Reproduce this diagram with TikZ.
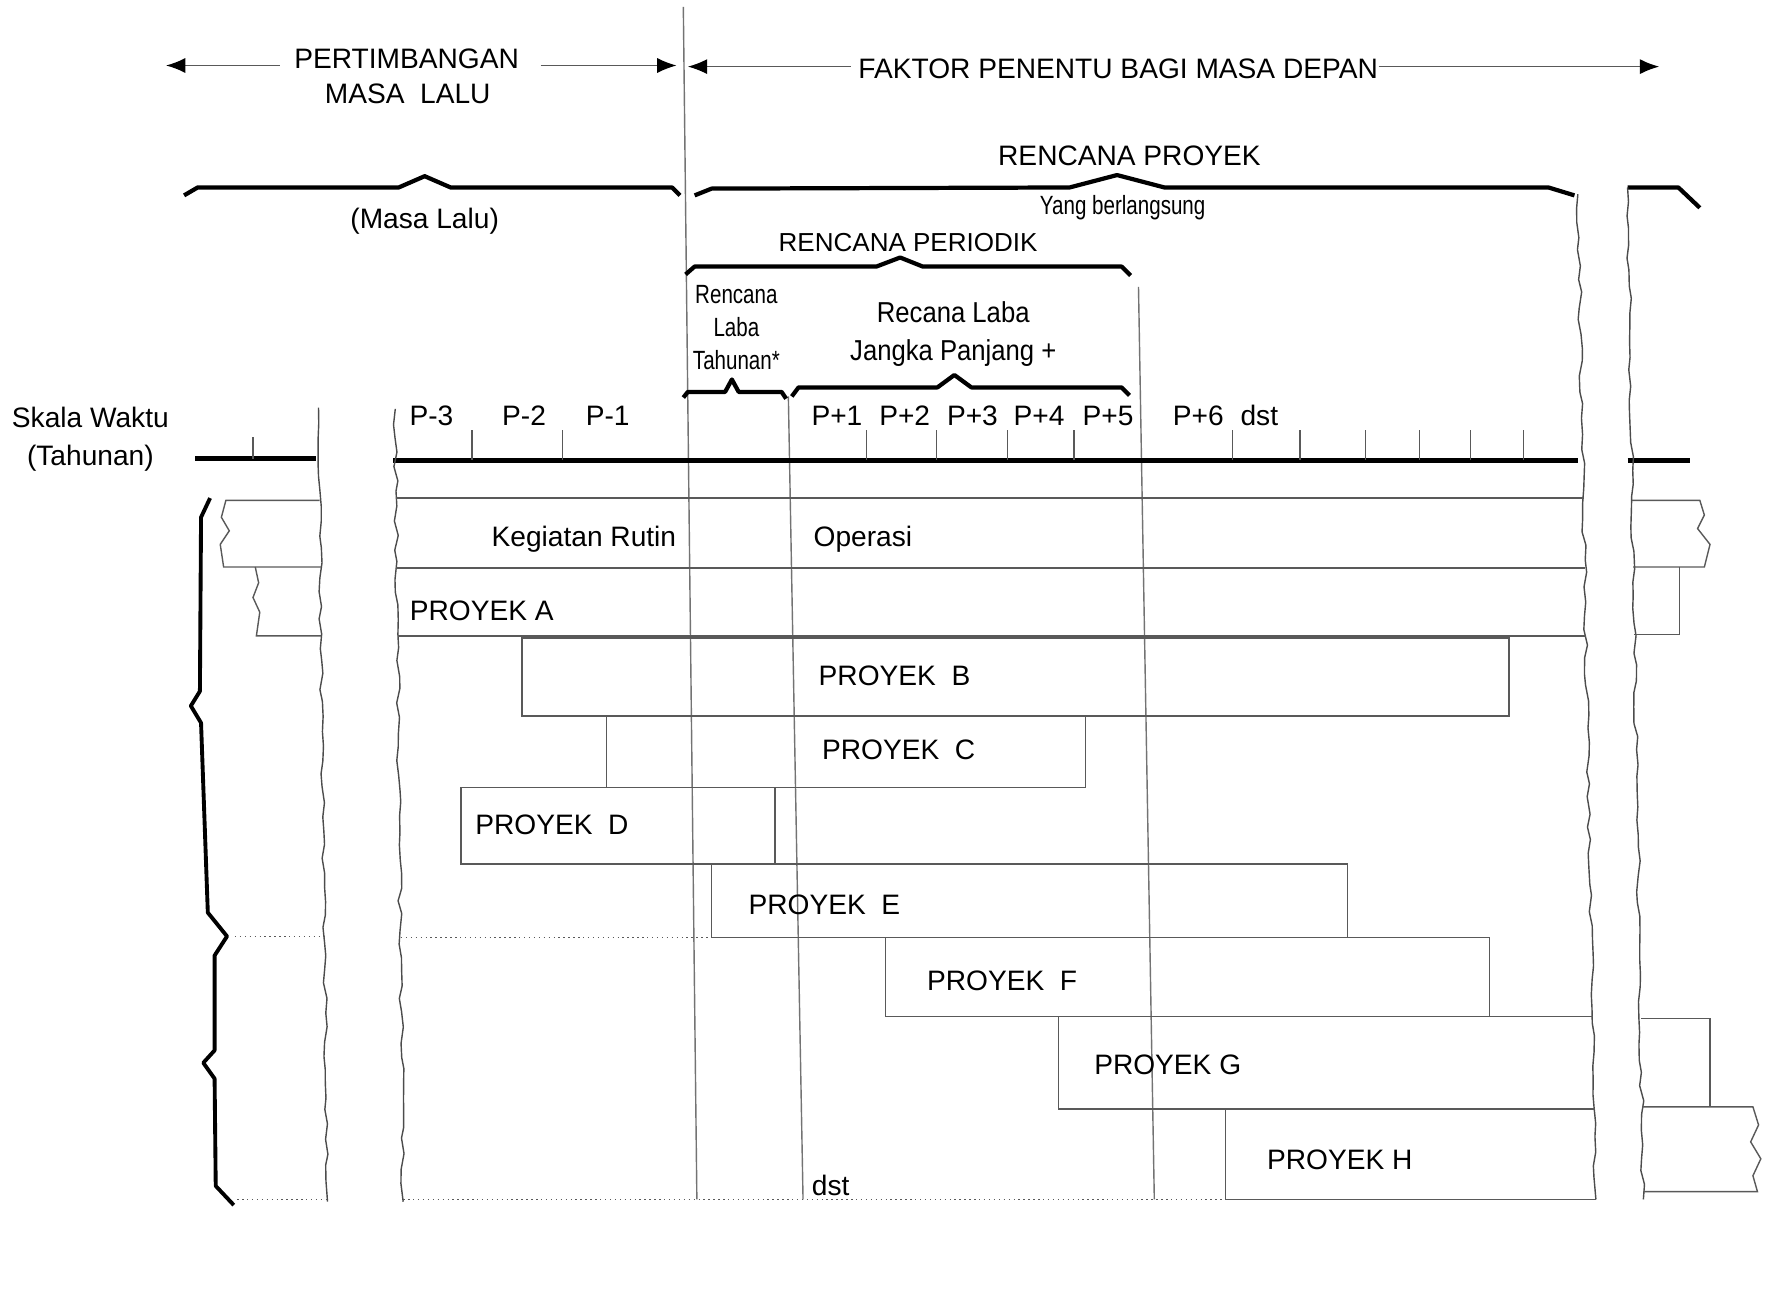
\documentclass[tikz,border=0pt]{standalone}
\usepackage{fontspec}
\setmainfont{Liberation Sans}
\newfontfamily\narrowfont[FakeStretch=0.78]{Liberation Sans}
\newfontfamily\semifont[FakeStretch=0.89]{Liberation Sans}
\usepackage{tikz}
\usetikzlibrary{arrows.meta,decorations.pathmorphing}

\begin{document}
\begin{tikzpicture}[x=0.011295cm,y=-0.011295cm,
        lbl/.style={font=\fontsize{8}{10}\selectfont,inner sep=2pt},
        arr/.style={-{Latex[length=5.5pt,width=4.3pt,color=black]},black!65,thin},
        brc/.style={line width=1.2pt,line join=round},
        axisline/.style={line width=1.5pt},
        tickline/.style={black!65,thin},
        box/.style={black!65,thin},
        vline/.style={black!55,thin},
        brk/.style={black!70,thin,decorate,decoration={random steps,segment length=4pt,amplitude=0.6pt}},
        dots/.style={black!65,densely dotted}]
        \pgfmathsetseed{11}
        \useasboundingbox (0,0) rectangle (1568,1147);

        %top arrows
        \node[lbl,inner sep=4pt] (pertimb) at (360,52){PERTIMBANGAN};
        \node[lbl] (masalalu) at (361,83){MASA\ \ LALU};
        \node[lbl] (faktor) at (990,61){FAKTOR PENENTU BAGI MASA DEPAN};
        \coordinate (pastL) at (147,58);
        \coordinate (pastR) at (599,58);
        \coordinate (futL) at (609,59);
        \coordinate (futR) at (1469,59);
        \draw[arr] (pertimb.west |- pastL) -- (pastL);
        \draw[arr] ([xshift=2pt]pertimb.east |- pastR) -- (pastR);
        \draw[arr] (faktor.west |- futL) -- (futL);
        \draw[arr] ([xshift=-2pt]faktor.east |- futR) -- (futR);

        %vertical lines
        \draw[vline] (605,6) -- (617,1062);
        \draw[vline] (698,351) -- (711,1062);
        \draw[vline] (1008,254) -- (1022,1062);

        %braces
        \draw[brc] (163,173)--(175,166)--(353,166)--(376,156)--(399,166)--(595,166)--(602,173);
        \draw[brc] (615,173)--(630,167)--(947,166)--(989,155)--(1031,166)--(1371,166)--(1394,173);
        \draw[brc] (1441,166)--(1486,166)--(1505,184);
        \draw[brc] (607,243)--(615,236)--(776,236)--(797,228)--(817,236)--(993,236)--(1001,244);
        \draw[brc] (605,352)--(609,347)--(642,347)--(648,336)--(654,347)--(692,347)--(696,353);
        \draw[brc] (701,351)--(707,343)--(830,343)--(845,332)--(860,343)--(993,343)--(1000,350);
        \node[lbl] (lalu) at (376,196){(Masa Lalu)};
        \node[lbl] (rproyek) at (1000,138){RENCANA PROYEK};
        \node[inner sep=1pt,font=\narrowfont\fontsize{7.5}{9}\selectfont] (berlang) at (994,184){Yang berlangsung};
        \node[inner sep=1pt,font=\fontsize{7.4}{9}\selectfont] (rperiod) at (804,215){RENCANA PERIODIK};
        \node[inner sep=1pt,align=center,font=\narrowfont\fontsize{7.5}{9.5}\selectfont] (tahunan) at (652,290){Rencana\\Laba\\Tahunan*};
        \node[inner sep=1pt,align=center,font=\semifont\fontsize{8.2}{10.9}\selectfont] (jangka) at (844,296){Recana Laba\\Jangka Panjang +};

        %time scale
        \node[inner sep=1pt,align=center,font=\fontsize{8}{10.6}\selectfont] (skala) at (80,389){Skala Waktu\\(Tahunan)};
        \draw[axisline] (173,406) -- (280,406);
        \draw[axisline] (348,408) -- (1397,408);
        \draw[axisline] (1441,408) -- (1496,408);
        \draw[tickline] (224,387) -- (224,406);
        \foreach \x in {418,498,767,829,892,951,1091,1151,1209,1257,1302,1349}
            \draw[tickline] (\x,381) -- (\x,407);
        \foreach \x/\t in {382/P-3,464/P-2,538/P-1,741/P+1,801/P+2,861/P+3,920/P+4,981/P+5,1061/P+6,1115/dst}
            \node[lbl] (t\x) at (\x,368){\t};

        %break lines
        \draw[brk] (282,361) -- (290,1064);
        \draw[brk] (350,362) -- (357,1064);
        \draw[brk] (1397,172) -- (1413,1062);
        \draw[brk] (1441,166) -- (1455,1062);

        %activity rows
        \draw[box] (351,441) -- (1402,441) (351,503) -- (1403,503) (352,563) -- (1404,563);
        \draw[box] (462,565) rectangle (1336,634);
        \draw[box] (537,634) -- (537,697) -- (961,697) -- (961,634);
        \draw[box] (408,697) rectangle (686,765);
        \draw[box] (630,765) rectangle (1193,830);
        \draw[box] (784,830) rectangle (1319,900);
        \draw[box] (1410,900) -- (937,900) -- (937,982) -- (1412,982);
        \draw[box] (1085,982) -- (1085,1062) -- (1413,1062);
        \draw[dots] (208,829) -- (287,829) (355,830) -- (630,830);
        \draw[dots] (210,1062) -- (290,1062) (357,1062) -- (1085,1062);

        %cut off pieces
        \draw[box] (283,443) -- (200,443) -- (196,458) -- (203,470) -- (195,482) -- (198,502) -- (284,502);
        \draw[box] (226,502) -- (229,516) -- (224,529) -- (230,542) -- (227,563) -- (284,563);
        \draw[box] (1445,443) -- (1505,443) -- (1509,456) -- (1503,468) -- (1514,482) -- (1509,502) -- (1446,502);
        \draw[box] (1487,502) -- (1487,562) -- (1447,562);
        \draw[box] (1453,902) -- (1514,902) -- (1514,980);
        \draw[box] (1454,980) -- (1552,980) -- (1557,996) -- (1550,1011) -- (1559,1026) -- (1552,1041) -- (1556,1055) -- (1455,1055);

        \node[lbl] (rutin) at (517,477){Kegiatan Rutin};
        \node[lbl] (operasi) at (764,477){Operasi};
        \node[lbl,anchor=west] (pa) at (356,541){PROYEK A};
        \node[lbl,anchor=west] (pb) at (718,598){PROYEK\ \ B};
        \node[lbl,anchor=west] (pc) at (721,664){PROYEK\ \ C};
        \node[lbl,anchor=west] (pd) at (414,730){PROYEK\ \ D};
        \node[lbl,anchor=west] (pe) at (656,801){PROYEK\ \ E};
        \node[lbl,anchor=west] (pf) at (814,868){PROYEK\ \ F};
        \node[lbl,anchor=west] (pg) at (962,943){PROYEK G};
        \node[lbl,anchor=west] (ph) at (1115,1027){PROYEK H};
        \node[lbl,anchor=west] (dst) at (712,1050){dst};

        %left brace
        \draw[line width=1.1pt,line join=round] (186,441) -- (178,458) -- (177,612) -- (169,625) -- (178,640) -- (184,808) -- (201,829)
            -- (190,846) -- (190,930) -- (180,941) -- (190,955) -- (191,1050) -- (207,1067);
        \end{tikzpicture}
\end{document}
